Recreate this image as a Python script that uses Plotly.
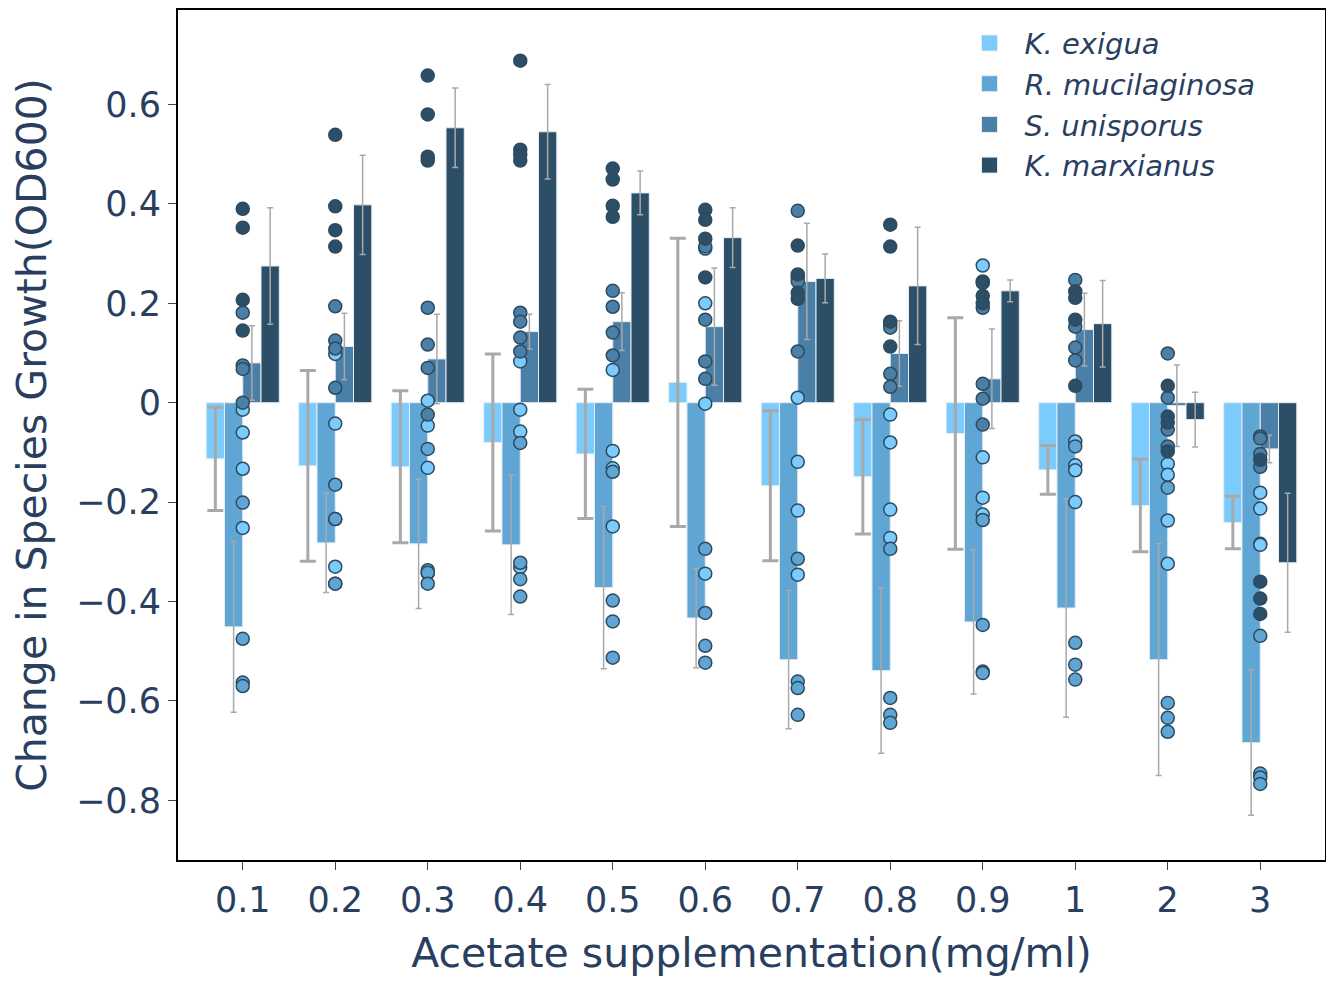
import plotly.graph_objects as go

categories = ["0.1", "0.2", "0.3", "0.4", "0.5", "0.6", "0.7", "0.8", "0.9", "1", "2", "3"]
species = ["K. exigua", "R. mucilaginosa", "S. unisporus", "K. marxianus"]

ke_mean = [-0.113, -0.127, -0.129, -0.080, -0.103, 0.041, -0.167, -0.149, -0.062, -0.135, -0.207, -0.241]
ke_err = [0.104, 0.192, 0.153, 0.178, 0.130, 0.290, 0.151, 0.115, 0.233, 0.049, 0.093, 0.053]
rm_mean = [-0.451, -0.282, -0.284, -0.286, -0.372, -0.433, -0.517, -0.539, -0.441, -0.413, -0.517, -0.684]
rm_err = [0.172, 0.100, 0.130, 0.140, 0.163, 0.100, 0.139, 0.166, 0.145, 0.220, 0.233, 0.146]
su_mean = [0.080, 0.113, 0.088, 0.143, 0.163, 0.153, 0.244, 0.099, 0.048, 0.147, -0.006, -0.093]
su_err = [0.075, 0.067, 0.090, 0.035, 0.058, 0.118, 0.117, 0.066, 0.100, 0.073, 0.082, 0.028]
km_mean = [0.275, 0.398, 0.553, 0.545, 0.422, 0.332, 0.250, 0.235, 0.225, 0.159, -0.034, -0.322]
km_err = [0.117, 0.100, 0.080, 0.095, 0.044, 0.060, 0.049, 0.118, 0.022, 0.087, 0.055, 0.140]

ke_pts = [
    [-0.014, -0.060, -0.133, -0.252],
    [0.098, -0.042, -0.234, -0.330],
    [0.004, -0.046, -0.131, -0.343],
    [0.083, -0.014, -0.058, -0.331],
    [0.066, -0.097, -0.132, -0.249],
    [0.310, 0.200, -0.002, -0.344],
    [0.010, -0.119, -0.217, -0.346],
    [-0.024, -0.080, -0.215, -0.272],
    [0.276, -0.110, -0.191, -0.225],
    [-0.078, -0.126, -0.136, -0.200],
    [-0.123, -0.145, -0.237, -0.324],
    [-0.181, -0.213, -0.284, -0.286],
]
rm_pts = [
    [-0.201, -0.475, -0.563, -0.570],
    [-0.165, -0.234, -0.364, -0.364],
    [-0.093, -0.337, -0.342, -0.364],
    [-0.081, -0.322, -0.355, -0.390],
    [-0.139, -0.398, -0.440, -0.513],
    [-0.294, -0.423, -0.489, -0.523],
    [-0.314, -0.561, -0.574, -0.628],
    [-0.294, -0.594, -0.628, -0.644],
    [-0.236, -0.447, -0.541, -0.544],
    [-0.088, -0.483, -0.527, -0.557],
    [-0.171, -0.604, -0.634, -0.662],
    [-0.469, -0.746, -0.754, -0.767],
]
su_pts = [
    [0.181, 0.075, 0.068, 0.000],
    [0.194, 0.125, 0.109, 0.030],
    [0.191, 0.117, 0.070, -0.024],
    [0.181, 0.163, 0.131, 0.103],
    [0.225, 0.193, 0.141, 0.095],
    [0.314, 0.167, 0.083, 0.048],
    [0.386, 0.252, 0.244, 0.103],
    [0.158, 0.151, 0.058, 0.032],
    [0.191, 0.038, 0.008, -0.044],
    [0.247, 0.153, 0.111, 0.085],
    [0.099, 0.010, -0.054, -0.088],
    [-0.068, -0.072, -0.103, -0.129],
]
km_pts = [
    [0.390, 0.352, 0.207, 0.145],
    [0.539, 0.395, 0.347, 0.314],
    [0.658, 0.580, 0.495, 0.487],
    [0.688, 0.509, 0.499, 0.487],
    [0.471, 0.449, 0.396, 0.374],
    [0.388, 0.368, 0.330, 0.252],
    [0.316, 0.258, 0.221, 0.209],
    [0.358, 0.314, 0.163, 0.113],
    [0.244, 0.241, 0.215, 0.200],
    [0.224, 0.211, 0.167, 0.034],
    [0.034, -0.028, -0.040, -0.098],
    [-0.115, -0.360, -0.394, -0.425],
]

colors = ["#7BCBFD", "#5FA6D5", "#4A7FA7", "#2C4F67"]
point_outline = "#2E4A5E"
err_color = "#A9A9A9"

means = [ke_mean, rm_mean, su_mean, km_mean]
errs = [ke_err, rm_err, su_err, km_err]
points = [ke_pts, rm_pts, su_pts, km_pts]

fig = go.Figure()

for i, name in enumerate(species):
    fig.add_trace(go.Bar(
        x=categories, y=means[i], name=name, legendgroup=name, showlegend=False,
        marker=dict(color=colors[i], line=dict(color="#E5ECF6", width=1)),
        error_y=dict(type="data", array=errs[i], visible=True, color=err_color,
                     thickness=3 if i == 0 else 1.5, width=8 if i == 0 else 3),
    ))

for i, name in enumerate(species):
    xs = [c for c, p in zip(categories, points[i]) for _ in p]
    ys = [v for p in points[i] for v in p]
    fig.add_trace(go.Scatter(
        x=xs, y=ys, mode="markers", name=name, legendgroup=name, showlegend=False,
        marker=dict(color=colors[i], size=13, line=dict(color=point_outline, width=1.5)),
    ))

for i, name in enumerate(species):
    fig.add_trace(go.Scatter(
        x=[None], y=[None], mode="markers", name=name, legendgroup=name, showlegend=True,
        marker=dict(symbol="square", size=20, color=colors[i], line=dict(color="#E5ECF6", width=1)),
    ))

axis_common = dict(
    showline=True, mirror=True, linecolor="black", linewidth=2,
    ticks="outside", ticklen=8, tickcolor="#444", tickwidth=1,
    showgrid=False, zeroline=False, automargin=False,
    tickfont=dict(size=35),
)

fig.update_layout(
    width=1318, height=969,
    template="none",
    barmode="group", bargap=0.21, bargroupgap=0,
    margin=dict(l=170, r=1, t=2, b=117),
    paper_bgcolor="white", plot_bgcolor="white",
    font=dict(family="DejaVu Sans", color="#2a3f5f", size=30),
    legend=dict(x=0.677, y=0.991, xanchor="left", yanchor="top",
                font=dict(size=29, style="italic"), itemwidth=60,
                bgcolor="rgba(0,0,0,0)", tracegroupgap=0, traceorder="normal"),
    xaxis=dict(type="category", range=[-0.7, 11.7],
               title=dict(text="Acetate supplementation(mg/ml)", font=dict(size=41), standoff=33),
               **axis_common),
    yaxis=dict(range=[-0.92, 0.79], dtick=0.2, tick0=0,
               title=dict(text="Change in Species Growth(OD600)", font=dict(size=41), standoff=20),
               **axis_common),
)

fig.write_html("out.html")
